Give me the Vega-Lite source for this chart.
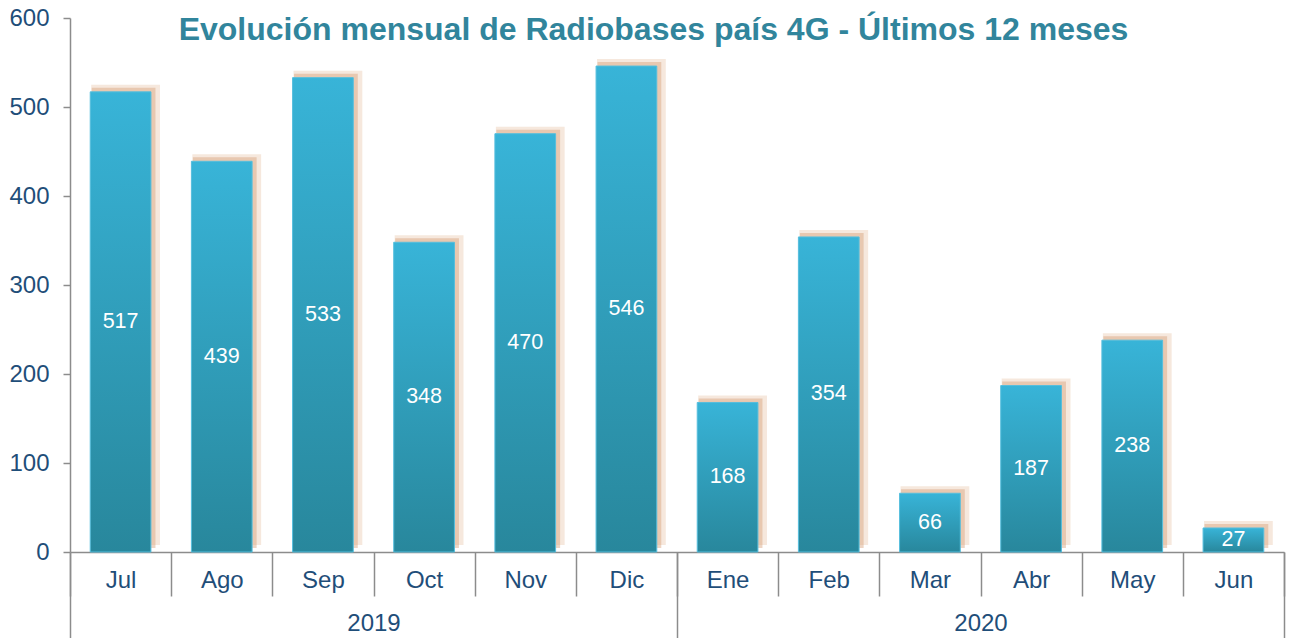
{
  "$schema": "https://vega.github.io/schema/vega-lite/v6.json",
  "width": 1214,
  "height": 534,
  "autosize": "none",
  "padding": {"left": 70, "top": 18, "right": 7, "bottom": 86},
  "background": "white",
  "config": {"view": {"stroke": null}, "font": "Liberation Sans"},
  "data": {
    "values": [
      {"month": "Jul", "year": "2019", "value": 517},
      {"month": "Ago", "year": "2019", "value": 439},
      {"month": "Sep", "year": "2019", "value": 533},
      {"month": "Oct", "year": "2019", "value": 348},
      {"month": "Nov", "year": "2019", "value": 470},
      {"month": "Dic", "year": "2019", "value": 546},
      {"month": "Ene", "year": "2020", "value": 168},
      {"month": "Feb", "year": "2020", "value": 354},
      {"month": "Mar", "year": "2020", "value": 66},
      {"month": "Abr", "year": "2020", "value": 187},
      {"month": "May", "year": "2020", "value": 238},
      {"month": "Jun", "year": "2020", "value": 27}
    ]
  },
  "layer": [
    {
      "mark": {"type": "bar", "width": {"band": 0.68}, "color": "#DFAE86", "opacity": 0.28, "xOffset": 5, "yOffset": -7},
      "encoding": {
        "x": {
          "field": "month", "type": "ordinal", "sort": null,
          "scale": {"paddingInner": 0, "paddingOuter": 0},
          "axis": {
            "orient": "top",
            "title": "Evolución mensual de Radiobases país 4G - Últimos 12 meses",
            "titleFont": "Liberation Sans",
            "titleFontSize": 32,
            "titleFontWeight": "bold",
            "titleColor": "#31859C",
            "titlePadding": -28,
            "titleX": 583,
            "labels": false,
            "ticks": false,
            "domain": false
          }
        },
        "y": {"field": "value", "type": "quantitative", "scale": {"domain": [0, 600]}, "axis": null}
      }
    },
    {
      "mark": {"type": "bar", "width": {"band": 0.63}, "color": "#D49C72", "opacity": 0.42, "xOffset": 3, "yOffset": -4},
      "encoding": {
        "x": {"field": "month", "type": "ordinal", "sort": null, "scale": {"paddingInner": 0, "paddingOuter": 0}, "axis": null},
        "y": {"field": "value", "type": "quantitative", "scale": {"domain": [0, 600]}, "axis": null}
      }
    },
    {
      "mark": {
        "type": "bar",
        "width": {"band": 0.6},
        "stroke": "#55BEDD",
        "strokeWidth": 1,
        "color": {
          "gradient": "linear",
          "x1": 0, "x2": 0, "y1": 0, "y2": 1,
          "stops": [
            {"offset": 0, "color": "#38B4D8"},
            {"offset": 1, "color": "#28879C"}
          ]
        }
      },
      "encoding": {
        "x": {
          "field": "month", "type": "ordinal", "sort": null,
          "scale": {"paddingInner": 0, "paddingOuter": 0},
          "axis": {
            "title": null, "orient": "bottom", "tickBand": "extent",
            "tickSize": 44, "tickColor": "#8C8C8C", "tickWidth": 1.5,
            "domainColor": "#8C8C8C", "domainWidth": 1.5,
            "labelFontSize": 24, "labelColor": "#1F4E79", "labelPadding": -28,
            "labelAngle": 0
          }
        },
        "y": {
          "field": "value", "type": "quantitative",
          "scale": {"domain": [0, 600]},
          "axis": {
            "title": null, "values": [0, 100, 200, 300, 400, 500, 600],
            "grid": false, "tickSize": 7, "tickColor": "#8C8C8C", "tickWidth": 1.5,
            "domainColor": "#8C8C8C", "domainWidth": 1.5,
            "labelFontSize": 24, "labelColor": "#1F4E79", "labelPadding": 14
          }
        }
      }
    },
    {
      "mark": {"type": "bar", "opacity": 0},
      "encoding": {
        "x": {
          "field": "year", "type": "ordinal",
          "scale": {"paddingInner": 0, "paddingOuter": 0},
          "axis": {
            "title": null, "orient": "bottom", "tickBand": "extent",
            "tickSize": 86, "tickColor": "#8C8C8C", "tickWidth": 1.5,
            "domain": false,
            "labelFontSize": 24, "labelColor": "#1F4E79", "labelPadding": -27,
            "labelAngle": 0
          }
        },
        "y": {"field": "value", "type": "quantitative", "scale": {"domain": [0, 600]}, "axis": null}
      }
    },
    {
      "mark": {"type": "text", "color": "white", "fontSize": 21.5, "baseline": "middle"},
      "encoding": {
        "x": {"field": "month", "type": "ordinal", "sort": null, "scale": {"paddingInner": 0, "paddingOuter": 0}, "axis": null},
        "y": {"field": "value", "type": "quantitative", "scale": {"domain": [0, 1200]}, "axis": null},
        "text": {"field": "value", "type": "quantitative"}
      }
    }
  ],
  "resolve": {"scale": {"x": "independent", "y": "independent"}}
}
